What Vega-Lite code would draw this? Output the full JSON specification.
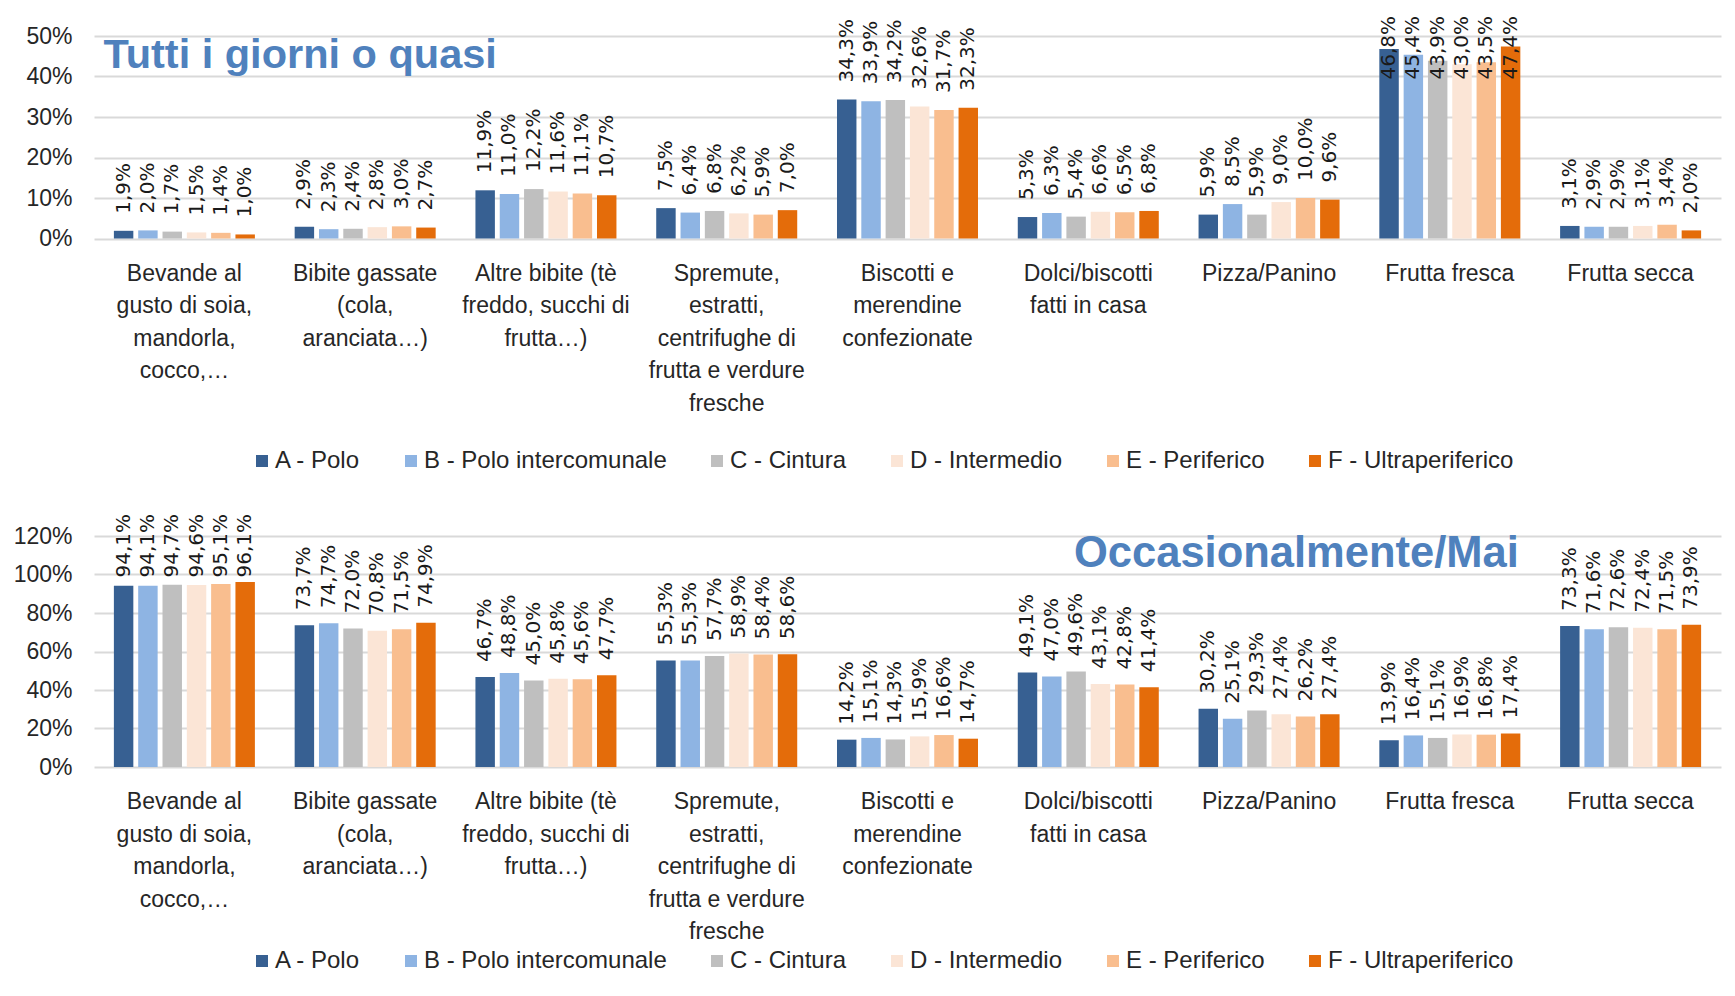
{
  "$schema": "https://vega.github.io/schema/vega-lite/v6.json",
  "background": "white",
  "padding": {"left": 13, "top": 16, "right": 5, "bottom": 5},
  "config": {
    "locale": {"number": {"decimal": ",", "thousands": ".", "grouping": [3], "currency": ["", " €"]}},
    "view": {"stroke": null},
    "font": "Liberation Sans",
    "axis": {"labelColor": "#262626", "labelFont": "Liberation Sans", "titleColor": "#262626"},
    "legend": {"labelColor": "#262626", "labelFont": "Liberation Sans"}
  },
  "datasets": {
    "tutti": [
      {"c": "Bevande al gusto di soia, mandorla, cocco,…", "z": "A - Polo", "v": 0.019},
      {"c": "Bevande al gusto di soia, mandorla, cocco,…", "z": "B - Polo intercomunale", "v": 0.020},
      {"c": "Bevande al gusto di soia, mandorla, cocco,…", "z": "C - Cintura", "v": 0.017},
      {"c": "Bevande al gusto di soia, mandorla, cocco,…", "z": "D - Intermedio", "v": 0.015},
      {"c": "Bevande al gusto di soia, mandorla, cocco,…", "z": "E - Periferico", "v": 0.014},
      {"c": "Bevande al gusto di soia, mandorla, cocco,…", "z": "F - Ultraperiferico", "v": 0.010},
      {"c": "Bibite gassate (cola, aranciata…)", "z": "A - Polo", "v": 0.029},
      {"c": "Bibite gassate (cola, aranciata…)", "z": "B - Polo intercomunale", "v": 0.023},
      {"c": "Bibite gassate (cola, aranciata…)", "z": "C - Cintura", "v": 0.024},
      {"c": "Bibite gassate (cola, aranciata…)", "z": "D - Intermedio", "v": 0.028},
      {"c": "Bibite gassate (cola, aranciata…)", "z": "E - Periferico", "v": 0.030},
      {"c": "Bibite gassate (cola, aranciata…)", "z": "F - Ultraperiferico", "v": 0.027},
      {"c": "Altre bibite (tè freddo, succhi di frutta…)", "z": "A - Polo", "v": 0.119},
      {"c": "Altre bibite (tè freddo, succhi di frutta…)", "z": "B - Polo intercomunale", "v": 0.110},
      {"c": "Altre bibite (tè freddo, succhi di frutta…)", "z": "C - Cintura", "v": 0.122},
      {"c": "Altre bibite (tè freddo, succhi di frutta…)", "z": "D - Intermedio", "v": 0.116},
      {"c": "Altre bibite (tè freddo, succhi di frutta…)", "z": "E - Periferico", "v": 0.111},
      {"c": "Altre bibite (tè freddo, succhi di frutta…)", "z": "F - Ultraperiferico", "v": 0.107},
      {"c": "Spremute, estratti, centrifughe di frutta e verdure fresche", "z": "A - Polo", "v": 0.075},
      {"c": "Spremute, estratti, centrifughe di frutta e verdure fresche", "z": "B - Polo intercomunale", "v": 0.064},
      {"c": "Spremute, estratti, centrifughe di frutta e verdure fresche", "z": "C - Cintura", "v": 0.068},
      {"c": "Spremute, estratti, centrifughe di frutta e verdure fresche", "z": "D - Intermedio", "v": 0.062},
      {"c": "Spremute, estratti, centrifughe di frutta e verdure fresche", "z": "E - Periferico", "v": 0.059},
      {"c": "Spremute, estratti, centrifughe di frutta e verdure fresche", "z": "F - Ultraperiferico", "v": 0.070},
      {"c": "Biscotti e merendine confezionate", "z": "A - Polo", "v": 0.343},
      {"c": "Biscotti e merendine confezionate", "z": "B - Polo intercomunale", "v": 0.339},
      {"c": "Biscotti e merendine confezionate", "z": "C - Cintura", "v": 0.342},
      {"c": "Biscotti e merendine confezionate", "z": "D - Intermedio", "v": 0.326},
      {"c": "Biscotti e merendine confezionate", "z": "E - Periferico", "v": 0.317},
      {"c": "Biscotti e merendine confezionate", "z": "F - Ultraperiferico", "v": 0.323},
      {"c": "Dolci/biscotti fatti in casa", "z": "A - Polo", "v": 0.053},
      {"c": "Dolci/biscotti fatti in casa", "z": "B - Polo intercomunale", "v": 0.063},
      {"c": "Dolci/biscotti fatti in casa", "z": "C - Cintura", "v": 0.054},
      {"c": "Dolci/biscotti fatti in casa", "z": "D - Intermedio", "v": 0.066},
      {"c": "Dolci/biscotti fatti in casa", "z": "E - Periferico", "v": 0.065},
      {"c": "Dolci/biscotti fatti in casa", "z": "F - Ultraperiferico", "v": 0.068},
      {"c": "Pizza/Panino", "z": "A - Polo", "v": 0.059},
      {"c": "Pizza/Panino", "z": "B - Polo intercomunale", "v": 0.085},
      {"c": "Pizza/Panino", "z": "C - Cintura", "v": 0.059},
      {"c": "Pizza/Panino", "z": "D - Intermedio", "v": 0.090},
      {"c": "Pizza/Panino", "z": "E - Periferico", "v": 0.100},
      {"c": "Pizza/Panino", "z": "F - Ultraperiferico", "v": 0.096},
      {"c": "Frutta fresca", "z": "A - Polo", "v": 0.468},
      {"c": "Frutta fresca", "z": "B - Polo intercomunale", "v": 0.454},
      {"c": "Frutta fresca", "z": "C - Cintura", "v": 0.439},
      {"c": "Frutta fresca", "z": "D - Intermedio", "v": 0.430},
      {"c": "Frutta fresca", "z": "E - Periferico", "v": 0.435},
      {"c": "Frutta fresca", "z": "F - Ultraperiferico", "v": 0.474},
      {"c": "Frutta secca", "z": "A - Polo", "v": 0.031},
      {"c": "Frutta secca", "z": "B - Polo intercomunale", "v": 0.029},
      {"c": "Frutta secca", "z": "C - Cintura", "v": 0.029},
      {"c": "Frutta secca", "z": "D - Intermedio", "v": 0.031},
      {"c": "Frutta secca", "z": "E - Periferico", "v": 0.034},
      {"c": "Frutta secca", "z": "F - Ultraperiferico", "v": 0.020}
    ],
    "occas": [
      {"c": "Bevande al gusto di soia, mandorla, cocco,…", "z": "A - Polo", "v": 0.941},
      {"c": "Bevande al gusto di soia, mandorla, cocco,…", "z": "B - Polo intercomunale", "v": 0.941},
      {"c": "Bevande al gusto di soia, mandorla, cocco,…", "z": "C - Cintura", "v": 0.947},
      {"c": "Bevande al gusto di soia, mandorla, cocco,…", "z": "D - Intermedio", "v": 0.946},
      {"c": "Bevande al gusto di soia, mandorla, cocco,…", "z": "E - Periferico", "v": 0.951},
      {"c": "Bevande al gusto di soia, mandorla, cocco,…", "z": "F - Ultraperiferico", "v": 0.961},
      {"c": "Bibite gassate (cola, aranciata…)", "z": "A - Polo", "v": 0.737},
      {"c": "Bibite gassate (cola, aranciata…)", "z": "B - Polo intercomunale", "v": 0.747},
      {"c": "Bibite gassate (cola, aranciata…)", "z": "C - Cintura", "v": 0.720},
      {"c": "Bibite gassate (cola, aranciata…)", "z": "D - Intermedio", "v": 0.708},
      {"c": "Bibite gassate (cola, aranciata…)", "z": "E - Periferico", "v": 0.715},
      {"c": "Bibite gassate (cola, aranciata…)", "z": "F - Ultraperiferico", "v": 0.749},
      {"c": "Altre bibite (tè freddo, succhi di frutta…)", "z": "A - Polo", "v": 0.467},
      {"c": "Altre bibite (tè freddo, succhi di frutta…)", "z": "B - Polo intercomunale", "v": 0.488},
      {"c": "Altre bibite (tè freddo, succhi di frutta…)", "z": "C - Cintura", "v": 0.450},
      {"c": "Altre bibite (tè freddo, succhi di frutta…)", "z": "D - Intermedio", "v": 0.458},
      {"c": "Altre bibite (tè freddo, succhi di frutta…)", "z": "E - Periferico", "v": 0.456},
      {"c": "Altre bibite (tè freddo, succhi di frutta…)", "z": "F - Ultraperiferico", "v": 0.477},
      {"c": "Spremute, estratti, centrifughe di frutta e verdure fresche", "z": "A - Polo", "v": 0.553},
      {"c": "Spremute, estratti, centrifughe di frutta e verdure fresche", "z": "B - Polo intercomunale", "v": 0.553},
      {"c": "Spremute, estratti, centrifughe di frutta e verdure fresche", "z": "C - Cintura", "v": 0.577},
      {"c": "Spremute, estratti, centrifughe di frutta e verdure fresche", "z": "D - Intermedio", "v": 0.589},
      {"c": "Spremute, estratti, centrifughe di frutta e verdure fresche", "z": "E - Periferico", "v": 0.584},
      {"c": "Spremute, estratti, centrifughe di frutta e verdure fresche", "z": "F - Ultraperiferico", "v": 0.586},
      {"c": "Biscotti e merendine confezionate", "z": "A - Polo", "v": 0.142},
      {"c": "Biscotti e merendine confezionate", "z": "B - Polo intercomunale", "v": 0.151},
      {"c": "Biscotti e merendine confezionate", "z": "C - Cintura", "v": 0.143},
      {"c": "Biscotti e merendine confezionate", "z": "D - Intermedio", "v": 0.159},
      {"c": "Biscotti e merendine confezionate", "z": "E - Periferico", "v": 0.166},
      {"c": "Biscotti e merendine confezionate", "z": "F - Ultraperiferico", "v": 0.147},
      {"c": "Dolci/biscotti fatti in casa", "z": "A - Polo", "v": 0.491},
      {"c": "Dolci/biscotti fatti in casa", "z": "B - Polo intercomunale", "v": 0.470},
      {"c": "Dolci/biscotti fatti in casa", "z": "C - Cintura", "v": 0.496},
      {"c": "Dolci/biscotti fatti in casa", "z": "D - Intermedio", "v": 0.431},
      {"c": "Dolci/biscotti fatti in casa", "z": "E - Periferico", "v": 0.428},
      {"c": "Dolci/biscotti fatti in casa", "z": "F - Ultraperiferico", "v": 0.414},
      {"c": "Pizza/Panino", "z": "A - Polo", "v": 0.302},
      {"c": "Pizza/Panino", "z": "B - Polo intercomunale", "v": 0.251},
      {"c": "Pizza/Panino", "z": "C - Cintura", "v": 0.293},
      {"c": "Pizza/Panino", "z": "D - Intermedio", "v": 0.274},
      {"c": "Pizza/Panino", "z": "E - Periferico", "v": 0.262},
      {"c": "Pizza/Panino", "z": "F - Ultraperiferico", "v": 0.274},
      {"c": "Frutta fresca", "z": "A - Polo", "v": 0.139},
      {"c": "Frutta fresca", "z": "B - Polo intercomunale", "v": 0.164},
      {"c": "Frutta fresca", "z": "C - Cintura", "v": 0.151},
      {"c": "Frutta fresca", "z": "D - Intermedio", "v": 0.169},
      {"c": "Frutta fresca", "z": "E - Periferico", "v": 0.168},
      {"c": "Frutta fresca", "z": "F - Ultraperiferico", "v": 0.174},
      {"c": "Frutta secca", "z": "A - Polo", "v": 0.733},
      {"c": "Frutta secca", "z": "B - Polo intercomunale", "v": 0.716},
      {"c": "Frutta secca", "z": "C - Cintura", "v": 0.726},
      {"c": "Frutta secca", "z": "D - Intermedio", "v": 0.724},
      {"c": "Frutta secca", "z": "E - Periferico", "v": 0.715},
      {"c": "Frutta secca", "z": "F - Ultraperiferico", "v": 0.739}
    ]
  },
  "spacing": 40,
  "resolve": {"legend": {"color": "independent"}},
  "vconcat": [
    {
      "width": 1627,
      "height": 202.5,
      "data": {"name": "tutti"},
      "encoding": {
        "x": {
          "field": "c", "type": "nominal", "sort": null, "title": null,
          "scale": {"paddingInner": 0.22, "paddingOuter": 0.11},
          "axis": {
            "domain": false, "ticks": false, "grid": false, "labelAngle": 0, "labelLimit": 0,
            "labelFontSize": 23, "labelLineHeight": 32.6, "labelPadding": 23.5, "labelBaseline": "top",
            "labelExpr": "datum.value == 'Bevande al gusto di soia, mandorla, cocco,…' ? ['Bevande al', 'gusto di soia,', 'mandorla,', 'cocco,…'] : datum.value == 'Bibite gassate (cola, aranciata…)' ? ['Bibite gassate', '(cola,', 'aranciata…)'] : datum.value == 'Altre bibite (tè freddo, succhi di frutta…)' ? ['Altre bibite (tè', 'freddo, succhi di', 'frutta…)'] : datum.value == 'Spremute, estratti, centrifughe di frutta e verdure fresche' ? ['Spremute,', 'estratti,', 'centrifughe di', 'frutta e verdure', 'fresche'] : datum.value == 'Biscotti e merendine confezionate' ? ['Biscotti e', 'merendine', 'confezionate'] : datum.value == 'Dolci/biscotti fatti in casa' ? ['Dolci/biscotti', 'fatti in casa'] : datum.value"
          }
        },
        "y": {
          "field": "v", "type": "quantitative", "title": null,
          "scale": {"domain": [0, 0.5], "nice": false},
          "axis": {"values": [0, 0.1, 0.2, 0.3, 0.4, 0.5], "format": ".0%", "domain": false, "ticks": false,
                   "grid": true, "gridColor": "#D9D9D9", "gridWidth": 2, "labelFontSize": 23, "labelPadding": 22}
        }
      },
      "layer": [
        {
          "mark": {"type": "bar"},
          "encoding": {
            "xOffset": {"field": "z", "type": "nominal", "scale": {"paddingInner": 0.2, "paddingOuter": 0}},
            "color": {
              "field": "z", "type": "nominal",
              "scale": {"domain": ["A - Polo", "B - Polo intercomunale", "C - Cintura", "D - Intermedio", "E - Periferico", "F - Ultraperiferico"],
                        "range": ["#376092", "#8EB4E3", "#BFBFBF", "#FBE5D6", "#F9BE8F", "#E46C0A"]},
              "legend": {"title": null, "orient": "none", "legendX": 156, "legendY": 413, "direction": "horizontal", "symbolType": "square", "symbolSize": 144,
                         "labelFontSize": 24, "labelLimit": 0, "columnPadding": 38, "labelOffset": 1, "symbolStrokeWidth": 0}
            }
          }
        },
        {
          "transform": [{"filter": {"not": {"field": "c", "equal": "Frutta fresca"}}}],
          "mark": {"type": "text", "angle": 270, "align": "left", "baseline": "middle", "dx": 17, "font": "DejaVu Sans", "fontSize": 20, "color": "#1a1a1a"},
          "encoding": {
            "xOffset": {"field": "z", "type": "nominal"},
            "text": {"field": "v", "type": "quantitative", "format": ".1%"}
          }
        },
        {
          "transform": [{"filter": {"field": "c", "equal": "Frutta fresca"}}],
          "mark": {"type": "text", "angle": 270, "align": "right", "baseline": "middle", "dx": 20, "font": "DejaVu Sans", "fontSize": 20, "color": "#1a1a1a"},
          "encoding": {
            "xOffset": {"field": "z", "type": "nominal"},
            "y": {"datum": 0.5},
            "text": {"field": "v", "type": "quantitative", "format": ".1%"}
          }
        },
        {
          "transform": [{"filter": {"and": [{"field": "c", "equal": "Bevande al gusto di soia, mandorla, cocco,…"}, {"field": "z", "equal": "A - Polo"}]}}],
          "mark": {"type": "text", "text": "Tutti i giorni o quasi", "align": "left", "baseline": "alphabetic", "dx": -81, "dy": 31.5, "font": "Liberation Sans", "fontWeight": "bold", "fontSize": 41.5, "color": "#4F81BD"},
          "encoding": {
            "y": {"datum": 0.5}
          }
        }
      ]
    },
    {
      "width": 1627,
      "height": 231,
      "data": {"name": "occas"},
      "encoding": {
        "x": {
          "field": "c", "type": "nominal", "sort": null, "title": null,
          "scale": {"paddingInner": 0.22, "paddingOuter": 0.11},
          "axis": {
            "domain": false, "ticks": false, "grid": false, "labelAngle": 0, "labelLimit": 0,
            "labelFontSize": 23, "labelLineHeight": 32.6, "labelPadding": 23.5, "labelBaseline": "top",
            "labelExpr": "datum.value == 'Bevande al gusto di soia, mandorla, cocco,…' ? ['Bevande al', 'gusto di soia,', 'mandorla,', 'cocco,…'] : datum.value == 'Bibite gassate (cola, aranciata…)' ? ['Bibite gassate', '(cola,', 'aranciata…)'] : datum.value == 'Altre bibite (tè freddo, succhi di frutta…)' ? ['Altre bibite (tè', 'freddo, succhi di', 'frutta…)'] : datum.value == 'Spremute, estratti, centrifughe di frutta e verdure fresche' ? ['Spremute,', 'estratti,', 'centrifughe di', 'frutta e verdure', 'fresche'] : datum.value == 'Biscotti e merendine confezionate' ? ['Biscotti e', 'merendine', 'confezionate'] : datum.value == 'Dolci/biscotti fatti in casa' ? ['Dolci/biscotti', 'fatti in casa'] : datum.value"
          }
        },
        "y": {
          "field": "v", "type": "quantitative", "title": null,
          "scale": {"domain": [0, 1.2], "nice": false},
          "axis": {"values": [0, 0.2, 0.4, 0.6, 0.8, 1.0, 1.2], "format": ".0%", "domain": false, "ticks": false,
                   "grid": true, "gridColor": "#D9D9D9", "gridWidth": 2, "labelFontSize": 23, "labelPadding": 22}
        }
      },
      "layer": [
        {
          "mark": {"type": "bar"},
          "encoding": {
            "xOffset": {"field": "z", "type": "nominal", "scale": {"paddingInner": 0.2, "paddingOuter": 0}},
            "color": {
              "field": "z", "type": "nominal",
              "scale": {"domain": ["A - Polo", "B - Polo intercomunale", "C - Cintura", "D - Intermedio", "E - Periferico", "F - Ultraperiferico"],
                        "range": ["#376092", "#8EB4E3", "#BFBFBF", "#FBE5D6", "#F9BE8F", "#E46C0A"]},
              "legend": {"title": null, "orient": "none", "legendX": 156, "legendY": 413, "direction": "horizontal", "symbolType": "square", "symbolSize": 144,
                         "labelFontSize": 24, "labelLimit": 0, "columnPadding": 38, "labelOffset": 1, "symbolStrokeWidth": 0}
            }
          }
        },
        {
          "transform": [{"filter": {"not": {"field": "c", "equal": "Bevande al gusto di soia, mandorla, cocco,…"}}}],
          "mark": {"type": "text", "angle": 270, "align": "left", "baseline": "middle", "dx": 15, "font": "DejaVu Sans", "fontSize": 20, "color": "#1a1a1a"},
          "encoding": {
            "xOffset": {"field": "z", "type": "nominal"},
            "text": {"field": "v", "type": "quantitative", "format": ".1%"}
          }
        },
        {
          "transform": [{"filter": {"field": "c", "equal": "Bevande al gusto di soia, mandorla, cocco,…"}}],
          "mark": {"type": "text", "angle": 270, "align": "right", "baseline": "middle", "dx": 22, "font": "DejaVu Sans", "fontSize": 20, "color": "#1a1a1a"},
          "encoding": {
            "xOffset": {"field": "z", "type": "nominal"},
            "y": {"datum": 1.2},
            "text": {"field": "v", "type": "quantitative", "format": ".1%"}
          }
        },
        {
          "transform": [{"filter": {"and": [{"field": "c", "equal": "Frutta fresca"}, {"field": "z", "equal": "A - Polo"}]}}],
          "mark": {"type": "text", "text": "Occasionalmente/Mai", "align": "right", "baseline": "alphabetic", "dx": 69, "dy": 31, "font": "Liberation Sans", "fontWeight": "bold", "fontSize": 43.5, "color": "#4F81BD"},
          "encoding": {
            "y": {"datum": 1.2}
          }
        }
      ]
    }
  ]
}
